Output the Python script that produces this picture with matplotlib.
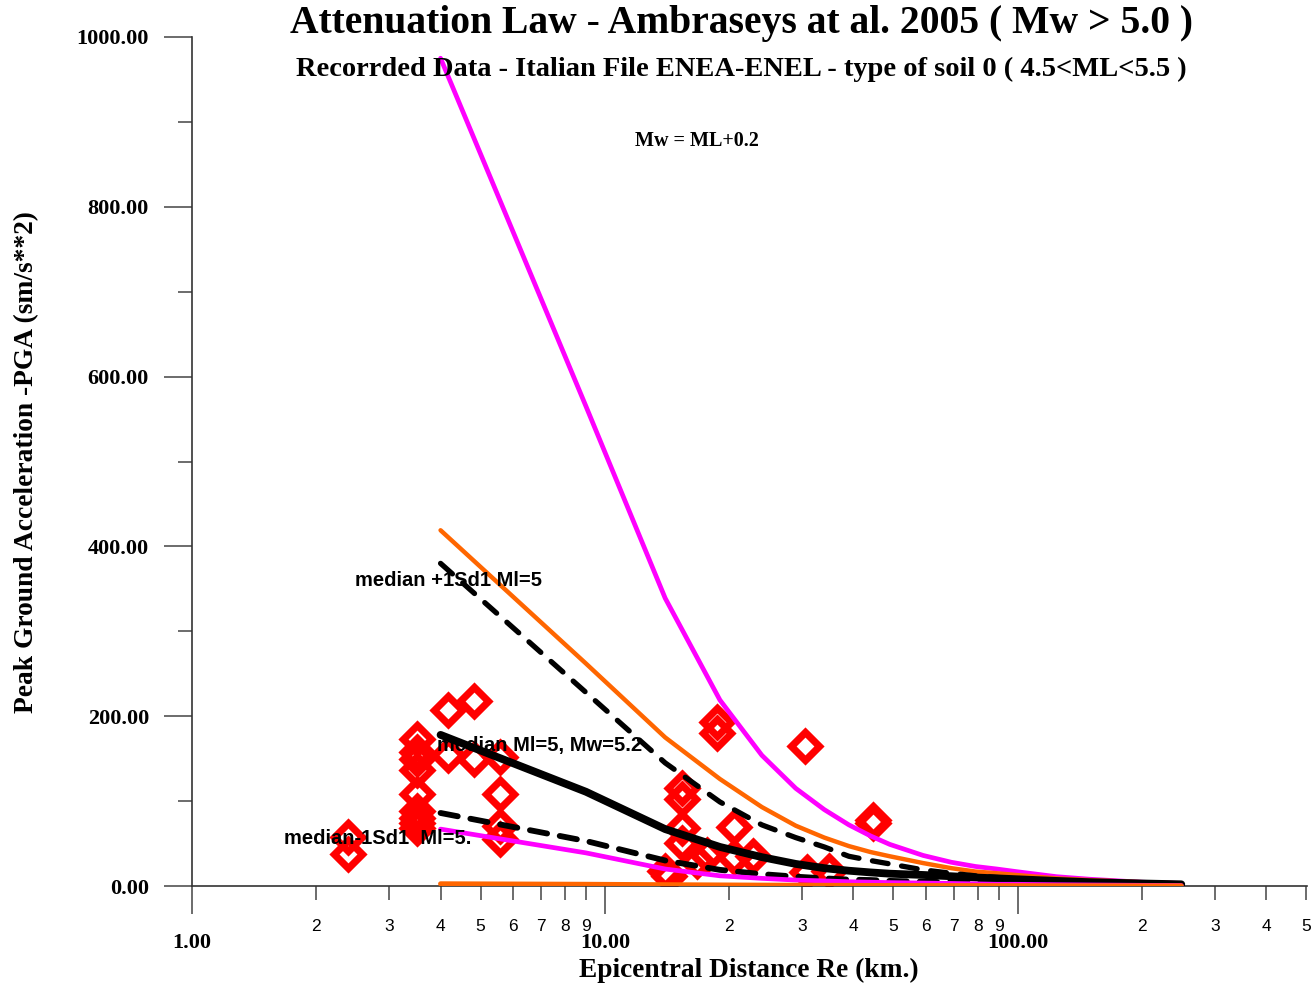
import matplotlib
matplotlib.use("Agg")
import matplotlib.pyplot as plt
from matplotlib.ticker import FixedLocator, FixedFormatter

# ---------------- data ----------------
dist = [4, 9, 14, 19, 24, 29, 34, 39, 44, 49, 59, 69, 79, 89, 99, 124, 149, 199, 249]

mag_upper = [975, 565, 339, 219, 154, 115, 90, 72, 59, 49, 36, 28, 23, 20, 17, 11, 8, 4.5, 3]
org_upper = [419, 262, 175, 126, 93, 71, 57, 47, 40, 35, 27, 21, 17, 15, 13, 9, 7, 4.5, 3]
med_plus = [380, 228, 145, 99, 72, 57, 46, 35, 30, 26, 19, 15, 12, 10, 9, 6, 4.5, 3, 2]
median = [178, 111, 67, 46, 34, 26, 21, 18, 16, 14.5, 13, 11.5, 10, 9, 8, 6, 4.5, 3, 2]
med_minus = [86, 53, 30, 19, 14, 11, 9, 7.5, 7, 6, 5, 4.5, 4, 3.5, 3, 2.5, 2, 1.5, 1]
mag_lower = [67, 39, 20, 12, 9, 7, 6, 5, 4.5, 4, 3.5, 3, 2.5, 2, 2, 1.5, 1.2, 0.8, 0.6]
org_lower = [2.6, 2.0, 1.5, 1.2, 1.0, 0.9, 0.8, 0.7, 0.6, 0.55, 0.5, 0.45, 0.4, 0.35, 0.3, 0.25, 0.2, 0.15, 0.1]

obs_dist = [2.39, 2.39,
            3.51, 3.51, 3.51, 3.51, 3.51, 3.51, 3.51, 3.51, 3.51,
            4.16, 4.82, 4.16, 4.82,
            5.57, 5.57, 5.57, 5.57,
            14.0, 14.3,
            15.4, 15.4, 15.4, 15.4,
            16.7, 17.7,
            18.7, 18.7,
            20.6, 20.6, 22.8,
            30.6,
            44.6, 44.6,
            30.8, 35.0]
obs_pga = [58, 38,
           173, 158, 150, 137, 108, 88, 80, 74, 68,
           207, 218, 154, 150,
           152, 108, 71, 55,
           18, 12,
           115, 103, 68, 51,
           30, 37,
           193, 180,
           70, 34, 35,
           165,
           78, 74,
           16, 18]

x_major = [1, 10, 100]
x_major_labels = ["1.00", "10.00", "100.00"]
x_minor = [2, 3, 4, 5, 6, 7, 8, 9, 20, 30, 40, 50, 60, 70, 80, 90, 200, 300, 400, 500]
x_minor_labels = ["2", "3", "4", "5", "6", "7", "8", "9",
                  "2", "3", "4", "5", "6", "7", "8", "9",
                  "2", "3", "4", "5"]
y_major = [0, 200, 400, 600, 800, 1000]
y_major_labels = ["0.00", "200.00", "400.00", "600.00", "800.00", "1000.00"]
y_minor = [100, 300, 500, 700, 900]

title = "Attenuation Law - Ambraseys at al. 2005 ( Mw > 5.0 )"
subtitle = "Recorrded Data - Italian File ENEA-ENEL - type of soil 0 ( 4.5<ML<5.5 )"
note = "Mw = ML+0.2"
xlabel = "Epicentral Distance Re (km.)"
ylabel = "Peak Ground Acceleration -PGA (sm/s**2)"

# ---------------- figure ----------------
W, H = 1316, 989
fig = plt.figure(figsize=(W / 100, H / 100), dpi=100)
ax = fig.add_axes([192 / W, 1 - 886 / H, (1307 - 192) / W, (886 - 37) / H])

serif = "Liberation Serif"
sans = "Liberation Sans"

ax.plot(obs_dist, obs_pga, linestyle="none", marker="D", markersize=14,
        markerfacecolor="none", markeredgecolor="#ff0000", markeredgewidth=5.2, zorder=1)

kw = dict(solid_capstyle="round", dash_capstyle="round", zorder=3)
ax.plot(dist, mag_upper, color="#ff00ff", lw=3.4, **kw)
ax.plot(dist, org_upper, color="#ff6600", lw=3.2, **kw)
ax.plot(dist, med_plus, color="black", lw=3.8, dashes=(3.0, 2.6), **kw)
ax.plot(dist, median, color="black", lw=5.6, **kw)
ax.plot(dist, med_minus, color="black", lw=4.2, dashes=(3.0, 2.2), **kw)
ax.plot(dist, mag_lower, color="#ff00ff", lw=3.4, **kw)
ax.plot(dist, org_lower, color="#ff6600", lw=3.6, **kw)

ax.set_xscale("log")
ax.set_xlim(1, 502)
ax.set_ylim(0, 1000)

ax.xaxis.set_major_locator(FixedLocator(x_major))
ax.xaxis.set_major_formatter(FixedFormatter(x_major_labels))
ax.xaxis.set_minor_locator(FixedLocator(x_minor))
ax.xaxis.set_minor_formatter(FixedFormatter(x_minor_labels))
ax.yaxis.set_major_locator(FixedLocator(y_major))
ax.yaxis.set_major_formatter(FixedFormatter(y_major_labels))
ax.yaxis.set_minor_locator(FixedLocator(y_minor))

for s in ["top", "right"]:
    ax.spines[s].set_visible(False)
for s in ["left", "bottom"]:
    ax.spines[s].set_color("#333333")
    ax.spines[s].set_linewidth(1.2)

ax.tick_params(axis="x", which="major", length=20, width=1.1, color="#444444",
               pad=14, labelsize=16)
ax.tick_params(axis="x", which="minor", length=10, width=1.1, color="#444444",
               pad=14, labelsize=12.5)
ax.tick_params(axis="y", which="major", length=20, width=1.1, color="#444444",
               pad=11, labelsize=16)
ax.tick_params(axis="y", which="minor", length=10, width=1.1, color="#444444")

for lab in ax.xaxis.get_majorticklabels() + ax.yaxis.get_majorticklabels():
    lab.set_fontfamily(serif)
    lab.set_fontweight("bold")
for lab in ax.xaxis.get_minorticklabels():
    lab.set_fontfamily(sans)

# annotations
ax.text(2.48, 360, "median +1Sd1 Ml=5", family=sans, weight="bold", fontsize=14.5,
        ha="left", va="center", zorder=5)
ax.text(3.92, 165, "median Ml=5, Mw=5.2", family=sans, weight="bold", fontsize=14.5,
        ha="left", va="center", zorder=5)
ax.text(1.67, 56, "median-1Sd1  Ml=5.", family=sans, weight="bold", fontsize=14.5,
        ha="left", va="center", zorder=5)

fig.text(742 / W, 1 - 24 / H, title, family=serif, weight="bold", fontsize=28.5,
         ha="center", va="center")
fig.text(741 / W, 1 - 69 / H, subtitle, family=serif, weight="bold", fontsize=20.5,
         ha="center", va="center")
fig.text(697 / W, 1 - 141 / H, note, family=serif, weight="bold", fontsize=14.5,
         ha="center", va="center")
fig.text(749 / W, 1 - 970 / H, xlabel, family=serif, weight="bold", fontsize=19.7,
         ha="center", va="center")
fig.text(27 / W, 1 - 462 / H, ylabel, family=serif, weight="bold", fontsize=19.8,
         ha="center", va="center", rotation=90)

fig.savefig("out.png", dpi=100)
